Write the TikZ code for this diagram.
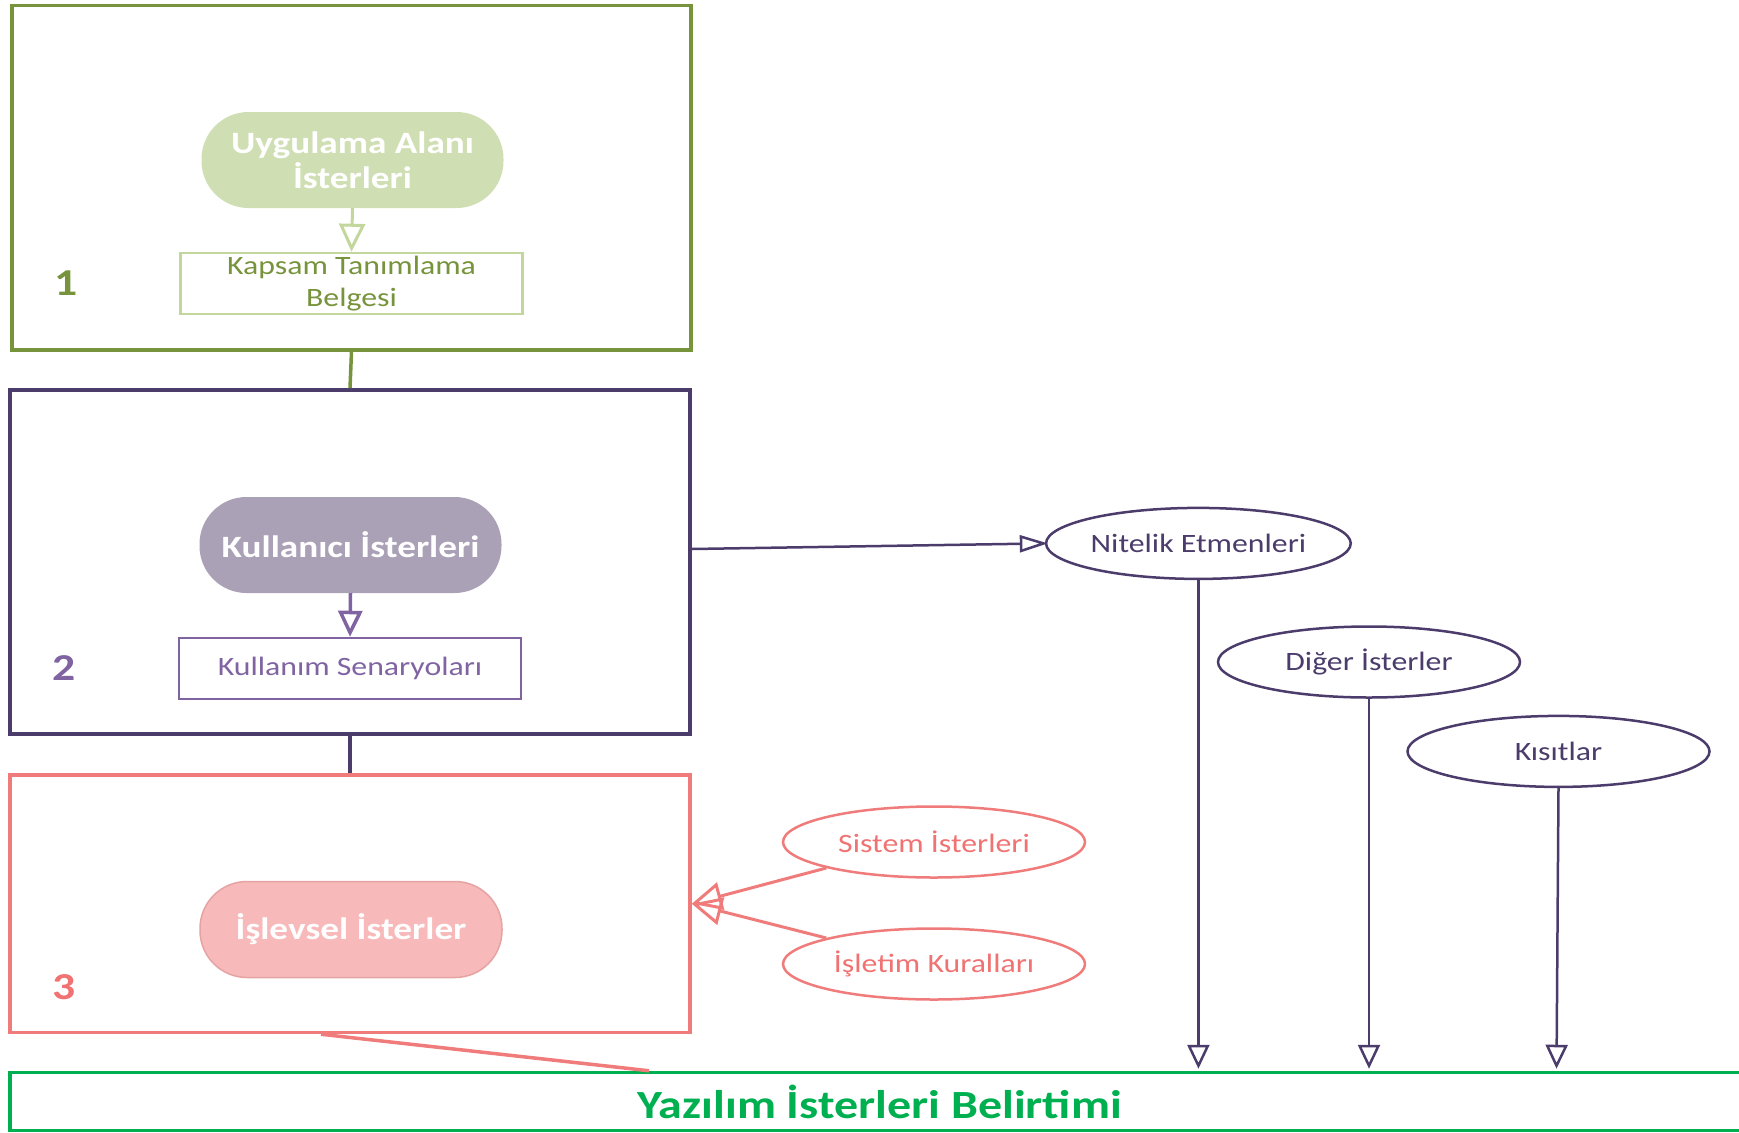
\documentclass[tikz,border=0pt]{standalone}
\usepackage{fontspec}
\setmainfont{Carlito}[FakeStretch=1.2]
\usetikzlibrary{arrows.meta,shapes.geometric}
\definecolor{cOlive}{HTML}{77933C}
\definecolor{cOliveFill}{HTML}{D0DFB3}
\definecolor{cOliveLight}{HTML}{C3D69B}
\definecolor{cPurpleDark}{HTML}{4B3C6B}
\definecolor{cPurpleFill}{HTML}{ABA1B7}
\definecolor{cPurple}{HTML}{8064A2}
\definecolor{cRed}{HTML}{F07B7B}
\definecolor{cRedFill}{HTML}{F7B9B9}
\definecolor{cRedEdge}{HTML}{E6A3A3}
\definecolor{cRedText}{HTML}{F07272}
\definecolor{cGreen}{HTML}{00B050}
\begin{document}
\begin{tikzpicture}[x=1pt,y=-1pt,
  frame/.style={draw, rectangle, inner sep=0pt, line width=3.5pt},
  stadium/.style={rectangle, rounded corners=47pt, minimum width=302pt, minimum height=96pt,
    inner sep=0pt, text=white, align=center, font=\bfseries\fontsize{31}{35.5}\selectfont},
  docbox/.style={draw, rectangle, line width=2.5pt, minimum width=342pt, minimum height=61pt,
    inner sep=0pt, align=center, font=\fontsize{26.5}{31.5}\selectfont},
  oval/.style={ellipse, draw, line width=2.5pt, minimum width=302pt, minimum height=71pt,
    inner sep=0pt, font=\fontsize{26.5}{31}\selectfont},
  numlabel/.style={font=\bfseries\fontsize{38}{40}\selectfont},
  downarrow/.style={cPurpleDark, line width=2.5pt, -{Triangle[open, length=24pt, width=22pt]}, shorten >=2pt}
]
\useasboundingbox (0,0) rectangle (1739,1132);
\clip (0,0) rectangle (1739,1132);

% ---- box 1
\node[frame, draw=cOlive, minimum width=679pt, minimum height=344.5pt] (box1) at (351.5,177.75) {};
\node[stadium, fill=cOliveFill] (uyg) at (352.5,160) {Uygulama Alanı\\İsterleri};
\node[docbox, draw=cOliveLight, text=cOlive] (kap) at (351.5,283.5) {Kapsam Tanımlama\\Belgesi};
\node[numlabel, text=cOlive] (n1) at (66.5,283) {1};
\draw[cOliveLight, line width=3pt, -{Triangle[open, length=28pt, width=26pt]}] (uyg.south) -- (kap.north);

% ---- box 2
\node[frame, draw=cPurpleDark, line width=4pt, minimum width=680pt, minimum height=344pt] (box2) at (350,562) {};
\node[stadium, fill=cPurpleFill] (kul) at (350.5,545) {Kullanıcı İsterleri};
\node[docbox, draw=cPurple, text=cPurple] (sen) at (350,668.5) {Kullanım Senaryoları};
\node[numlabel, text=cPurple] (n2) at (64,668) {2};
\draw[cPurple, line width=3.5pt, -{Triangle[open, length=26pt, width=24pt]}] (kul.south) -- (sen.north);

% ---- box 3
\node[frame, draw=cRed, minimum width=680pt, minimum height=257.5pt] (box3) at (350,903.75) {};
\node[stadium, fill=cRedFill, draw=cRedEdge, line width=1.5pt] (isl) at (351,929.5) {İşlevsel İsterler};
\node[numlabel, text=cRedText] (n3) at (64,987) {3};

% ---- bottom
\node[frame, draw=cGreen, minimum width=1739pt, minimum height=58pt, text=cGreen,
  font=\bfseries\fontsize{40}{44}\selectfont] (yaz) at (879.5,1101.5) {Yazılım İsterleri Belirtimi};

% ---- connectors between boxes
\draw[cOlive, line width=3.5pt] (box1.south) -- (box2.north);
\draw[cPurpleDark, line width=4pt] (box2.south) -- (box3.north);
\draw[cRed, line width=3.5pt] ([xshift=-29pt]box3.south) -- ([xshift=-230.5pt]yaz.north);

% ---- right side ovals
\node[oval, draw=cPurpleDark, text=cPurpleDark] (nit) at (1198.4,543.4) {Nitelik Etmenleri};
\node[oval, draw=cPurpleDark, text=cPurpleDark] (dig) at (1369,662) {Diğer İsterler};
\node[oval, draw=cPurpleDark, text=cPurpleDark] (kis) at (1558.5,751.4) {Kısıtlar};
\node[oval, draw=cRed, text=cRedText] (sis) at (934,842) {Sistem İsterleri};
\node[oval, draw=cRed, text=cRedText] (ise) at (934,964) {İşletim Kuralları};

\draw[cPurpleDark, line width=2.5pt, -{Triangle[open, length=28pt, width=17pt]}, shorten >=-3pt] ([yshift=13pt]box2.east) -- (nit.west);
\draw[downarrow] (nit.south) -- (nit.south |- yaz.north);
\draw[downarrow] (dig.south) -- (dig.south |- yaz.north);
\draw[downarrow] (kis.south) -- ([xshift=-2pt]kis.south |- yaz.north);

\draw[cRed, line width=3pt, -{Triangle[open, length=30pt, width=28pt]}] (sis.south west) -- (box3.east);
\draw[cRed, line width=3pt, -{Triangle[open, length=30pt, width=28pt]}] (ise.north west) -- (box3.east);
\end{tikzpicture}
\end{document}
